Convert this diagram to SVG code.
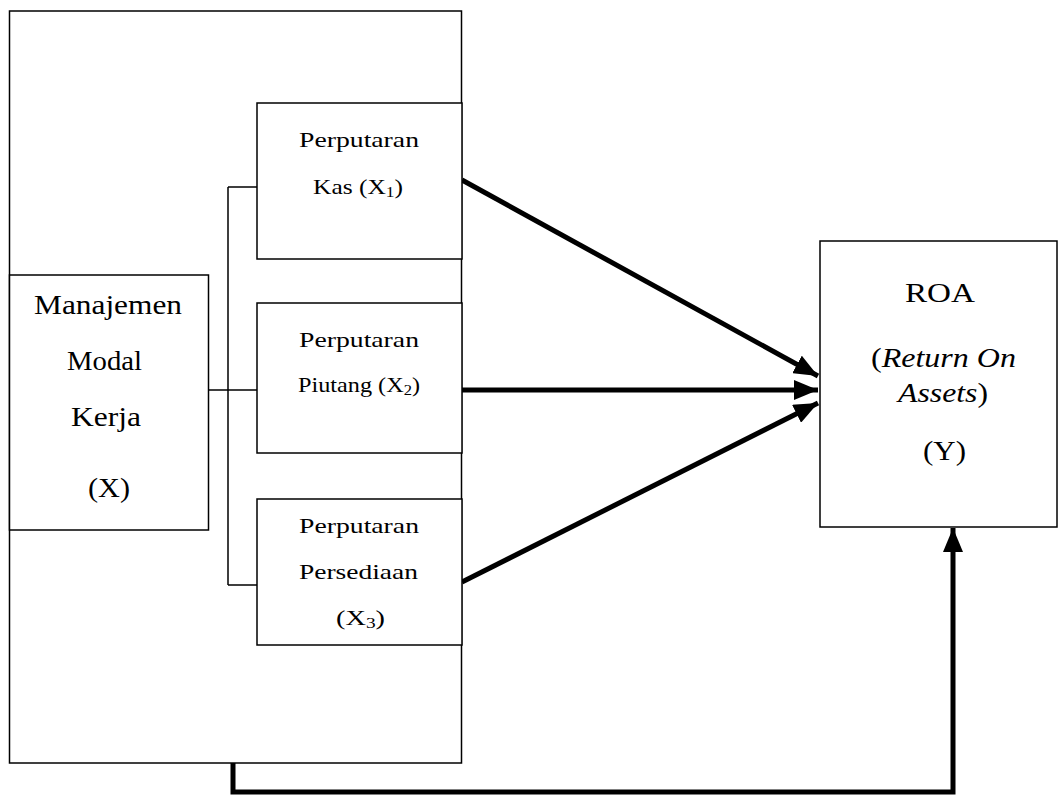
<svg xmlns="http://www.w3.org/2000/svg" width="1059" height="796" viewBox="0 0 1059 796">
<defs>
<style>
.box{fill:#fff;stroke:#000;stroke-width:1.5}
.t{font-family:"Liberation Serif","Times New Roman",serif;fill:#000;text-anchor:middle}
.big{font-size:27px}
.sm{font-size:22px}
.thin{fill:none;stroke:#000;stroke-width:1.5}
.thick{fill:none;stroke:#000;stroke-width:5}
</style>
<marker id="ah" markerUnits="userSpaceOnUse" markerWidth="24" markerHeight="20" viewBox="0 0 24 20" refX="24" refY="10" orient="auto">
<path d="M0,0 L24,10 L0,20 Z" fill="#000"/>
</marker>
</defs>
<rect width="1059" height="796" fill="#fff"/>
<g id="outer"><rect class="box" x="9.5" y="11" width="452" height="752"/></g>
<g id="connectors">
<path class="thin" d="M209,390 H257 M228,187 V585 M228,187 H257 M228,585 H257"/>
<line class="thick" x1="462" y1="180" x2="818" y2="376" marker-end="url(#ah)"/>
<line class="thick" x1="462" y1="390" x2="818" y2="390" marker-end="url(#ah)"/>
<line class="thick" x1="462" y1="582" x2="818" y2="403" marker-end="url(#ah)"/>
<path class="thick" stroke-width="4" d="M233,763 V792 H953 V528" marker-end="url(#ah)"/>
</g>
<g id="x">
<rect class="box" x="9.5" y="275" width="199" height="255"/>
<text class="t big" x="108" y="314" textLength="148" lengthAdjust="spacingAndGlyphs">Manajemen</text>
<text class="t big" x="104.5" y="370" textLength="75" lengthAdjust="spacingAndGlyphs">Modal</text>
<text class="t big" x="106" y="426" textLength="70" lengthAdjust="spacingAndGlyphs">Kerja</text>
<text class="t big" x="109" y="497" textLength="42" lengthAdjust="spacingAndGlyphs">(X)</text>
</g>
<g id="x1">
<rect class="box" x="257" y="103" width="205" height="156"/>
<text class="t sm" x="359" y="147" textLength="120" lengthAdjust="spacingAndGlyphs">Perputaran</text>
<text class="t sm" x="358" y="194" textLength="90" lengthAdjust="spacingAndGlyphs">Kas (X<tspan font-size="15" dy="3">1</tspan><tspan dy="-3">)</tspan></text>
</g>
<g id="x2">
<rect class="box" x="257" y="303" width="205" height="150"/>
<text class="t sm" x="359" y="347" textLength="120" lengthAdjust="spacingAndGlyphs">Perputaran</text>
<text class="t sm" x="359" y="392" textLength="122" lengthAdjust="spacingAndGlyphs">Piutang (X<tspan font-size="15" dy="3">2</tspan><tspan dy="-3">)</tspan></text>
</g>
<g id="x3">
<rect class="box" x="257" y="499" width="205" height="146"/>
<text class="t sm" x="359" y="533" textLength="120" lengthAdjust="spacingAndGlyphs">Perputaran</text>
<text class="t sm" x="358.5" y="579" textLength="119" lengthAdjust="spacingAndGlyphs">Persediaan</text>
<text class="t sm" x="360.5" y="625" textLength="49" lengthAdjust="spacingAndGlyphs">(X<tspan font-size="15" dy="3">3</tspan><tspan dy="-3">)</tspan></text>
</g>
<g id="y">
<rect class="box" x="820" y="241" width="237" height="286"/>
<text class="t big" x="940" y="302" textLength="70" lengthAdjust="spacingAndGlyphs">ROA</text>
<text class="t big" x="943.5" y="367" textLength="145" lengthAdjust="spacingAndGlyphs">(<tspan font-style="italic">Return On</tspan></text>
<text class="t big" x="943" y="402" textLength="90" lengthAdjust="spacingAndGlyphs"><tspan font-style="italic">Assets</tspan>)</text>
<text class="t big" x="944.5" y="460" textLength="43" lengthAdjust="spacingAndGlyphs">(Y)</text>
</g>
</svg>
